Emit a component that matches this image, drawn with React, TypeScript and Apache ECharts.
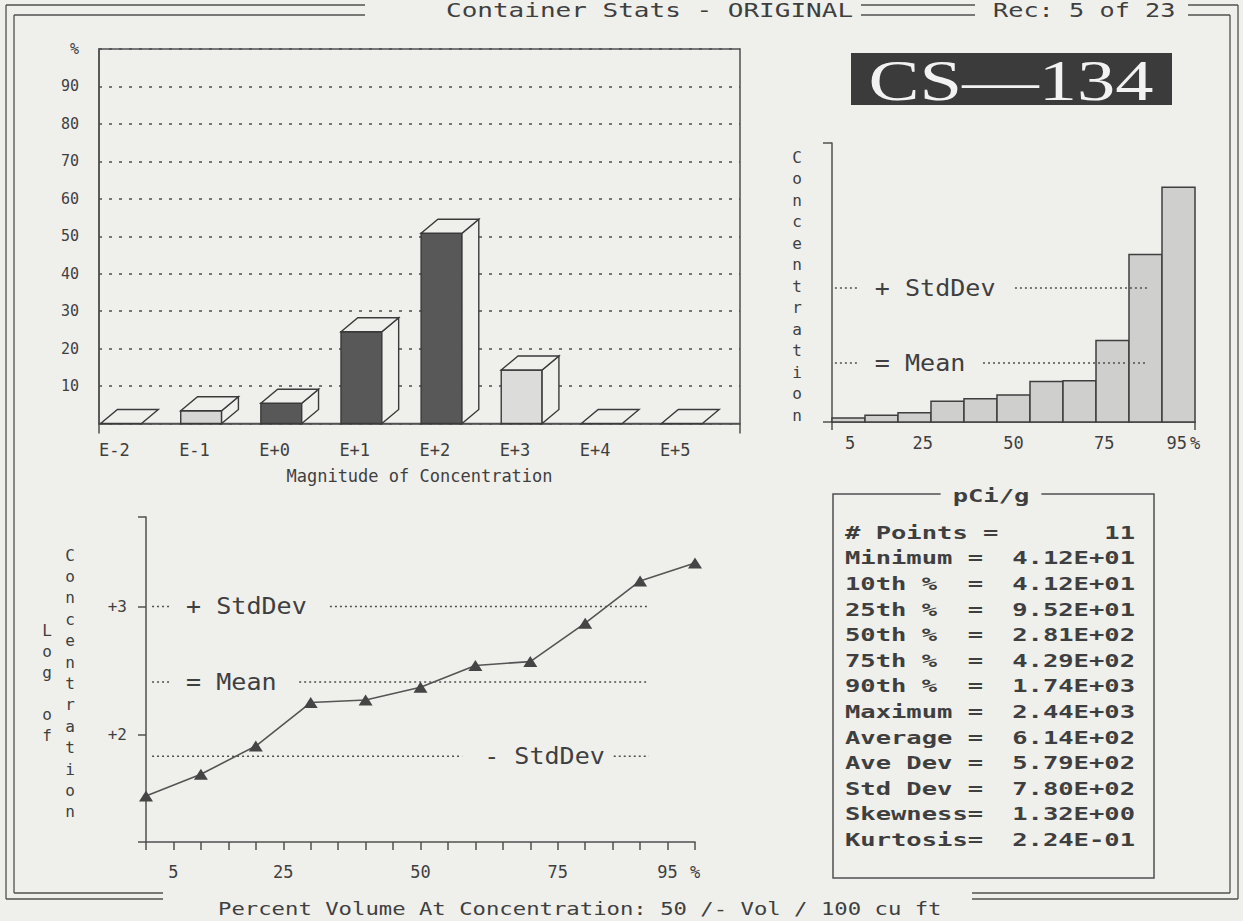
import React, { useEffect, useRef } from 'react';
import * as echarts from 'echarts';

// ---------------- data ----------------
const magnitudeCategories = ['E-2', 'E-1', 'E+0', 'E+1', 'E+2', 'E+3', 'E+4', 'E+5'];
const magnitudePercent = [0, 3.4, 5.4, 24.5, 50.8, 14.3, 0, 0];

const histPercentTicks = [5, 25, 50, 75, 95, 100];
const histConcentration = [41.2, 70, 95.2, 215, 242, 281, 420, 429, 848, 1740, 2440];
const histMean = 614;
const histPlusStdDev = 1394;

const logPercentiles = [0, 10, 20, 30, 40, 50, 60, 70, 80, 90, 100];
const logConcentration = [1.52, 1.69, 1.91, 2.25, 2.27, 2.37, 2.54, 2.57, 2.87, 3.2, 3.34];
const logTickLabels = [2, 3];
const logMean = 2.41;
const logPlusStdDev = 3.0;
const logMinusStdDev = 1.83;

const statLabels = [
  '# Points =', 'Minimum =', '10th %  =', '25th %  =', '50th %  =', '75th %  =', '90th %  =',
  'Maximum =', 'Average =', 'Ave Dev =', 'Std Dev =', 'Skewness=', 'Kurtosis=',
];
const statValues = [
  '11', '4.12E+01', '4.12E+01', '9.52E+01', '2.81E+02', '4.29E+02', '1.74E+03',
  '2.44E+03', '6.14E+02', '5.79E+02', '7.80E+02', '1.32E+00', '2.24E-01',
];

// ---------------- styles ----------------
const BG = '#efefec';
const INK = '#3f3f3f';
const LINE = '#505050';
const MONO = '"DejaVu Sans Mono", "Liberation Mono", monospace';
const barFaceFills = ['#efefec', '#d6d6d4', '#585858', '#585858', '#585858', '#dcdcda', '#efefec', '#efefec'];

// annotation geometry (data coordinates of dotted reference pieces)
const histRefSegments = [
  [0.8, 7.7, histPlusStdDev], [50.4, 86.8, histPlusStdDev],
  [0.8, 6.9, histMean], [41.6, 87, histMean],
];
const histRefLabels = [
  { text: '+ StdDev', x: 11.8, y: histPlusStdDev },
  { text: '= Mean', x: 11.8, y: histMean },
];
const logRefSegments = [
  [1.1, 4.7, logPlusStdDev], [33.5, 91.6, logPlusStdDev],
  [1.1, 4.7, logMean], [27.9, 91.6, logMean],
  [1.1, 57.6, logMinusStdDev], [85.2, 91.6, logMinusStdDev],
];
const logRefLabels = [
  { text: '+ StdDev', x: 7.3, y: logPlusStdDev },
  { text: '= Mean', x: 7.3, y: logMean },
  { text: '- StdDev', x: 61.6, y: logMinusStdDev },
];

const T = (text: string, x: number, y: number, o: any = {}) => ({
  type: 'text',
  x,
  y,
  scaleX: o.sx ?? 1,
  silent: true,
  z: o.z ?? 10,
  style: {
    text,
    fill: o.fill ?? INK,
    fontSize: o.size ?? 17,
    fontFamily: o.family ?? MONO,
    fontWeight: o.weight ?? 'normal',
    align: o.align ?? 'left',
    verticalAlign: o.va ?? 'middle',
    lineHeight: o.lh,
    backgroundColor: o.bg,
    padding: o.pad,
  },
});

const L = (x1: number, y1: number, x2: number, y2: number, w = 1.3) => ({
  type: 'line',
  silent: true,
  shape: { x1, y1, x2, y2 },
  style: { stroke: LINE, lineWidth: w },
});

const refSegmentSeries = (xi: number, segs: number[][]) => ({
  type: 'custom',
  xAxisIndex: xi,
  yAxisIndex: xi,
  silent: true,
  clip: false,
  z: 3,
  data: segs,
  encode: { x: [0, 1], y: 2 },
  renderItem: (_p: any, api: any) => {
    const a = api.coord([api.value(0), api.value(2)]);
    const b = api.coord([api.value(1), api.value(2)]);
    return {
      type: 'line',
      shape: { x1: a[0], y1: a[1], x2: b[0], y2: b[1] },
      style: { stroke: LINE, lineWidth: 1.5, lineDash: [2, 3] },
    };
  },
});

const refLabelSeries = (xi: number, labels: { text: string; x: number; y: number }[]) => ({
  type: 'custom',
  xAxisIndex: xi,
  yAxisIndex: xi,
  silent: true,
  clip: false,
  z: 4,
  data: labels.map((l) => [l.x, l.y]),
  encode: { x: 0, y: 1 },
  renderItem: (params: any, api: any) => {
    const p = api.coord([api.value(0), api.value(1)]);
    return {
      type: 'text',
      x: p[0],
      y: p[1],
      scaleX: 1.09,
      style: {
        text: labels[params.dataIndex].text,
        fill: INK,
        fontSize: 23,
        fontFamily: MONO,
        align: 'left',
        verticalAlign: 'middle',
      },
    };
  },
});

const axisLineStyle = { color: LINE, width: 1.5 };
const labelStyle = (size: number) => ({ color: INK, fontFamily: MONO, fontSize: size });

export default function App() {
  const ref = useRef<HTMLDivElement>(null);

  useEffect(() => {
    if (!ref.current) return;
    const chart = echarts.init(ref.current, null, { renderer: 'svg' });

    const graphics: any[] = [];
    // outer double frame
    graphics.push(
      L(6, 5, 365, 5), L(14, 15, 365, 15),
      L(861, 5, 975, 5), L(861, 15, 975, 15),
      L(1188, 5, 1238, 5), L(1188, 15, 1230, 15),
      L(6, 5, 6, 899), L(14, 15, 14, 893),
      L(1238, 5, 1238, 899), L(1230, 15, 1230, 893),
      L(6, 899, 163, 899), L(14, 893, 163, 893),
      L(972, 899, 1238, 899), L(972, 893, 1230, 893),
    );
    graphics.push(T('Container Stats - ORIGINAL', 446, 10, { size: 19, sx: 1.37 }));
    graphics.push(T('Rec: 5 of 23', 993, 10, { size: 19, sx: 1.33 }));
    graphics.push(T('Percent Volume At Concentration: 50 /- Vol / 100 cu ft', 218, 909, { size: 17, sx: 1.31 }));

    // CS-134 label
    graphics.push({
      type: 'rect', silent: true, z: 9,
      shape: { x: 851, y: 53, width: 321, height: 52 },
      style: { fill: '#3b3b3b' },
    });
    graphics.push(T('CS—134', 1011, 80, { size: 58, family: '"Liberation Serif", "DejaVu Serif", serif', fill: '#f2f2f2', align: 'center', sx: 1.32 }));

    // vertical axis words
    graphics.push(T('Concentration'.split('').join('\n'), 797, 286, { size: 16, lh: 21.5, align: 'center' }));
    graphics.push(T('Concentration'.split('').join('\n'), 70, 683.5, { size: 16, lh: 21.4, align: 'center' }));
    graphics.push(T('L\no\ng\n\no\nf', 47, 682.5, { size: 16, lh: 21, align: 'center' }));

    // stats box
    graphics.push({
      type: 'rect', silent: true, z: 8,
      shape: { x: 833, y: 494, width: 321, height: 384 },
      style: { fill: 'none', stroke: LINE, lineWidth: 1.5 },
    });
    graphics.push(T('pCi/g', 991, 496, { size: 17, sx: 1.5, align: 'center', bg: BG, pad: [2, 8], weight: 'bold' }));
    statLabels.forEach((s, k) => graphics.push(T(s, 845, 533 + k * 25.6, { size: 17, sx: 1.5, weight: 'bold' })));
    statValues.forEach((s, k) => graphics.push(T(s, 1135, 533 + k * 25.6, { size: 17, sx: 1.5, align: 'right', weight: 'bold' })));

    const option: any = {
      animation: false,
      backgroundColor: BG,
      grid: [
        { left: 99, top: 49, width: 641, height: 374.5, show: true, borderColor: LINE, borderWidth: 1.5 },
        { left: 832, top: 143, width: 363, height: 279 },
        { left: 146, top: 517, width: 549, height: 325 },
      ],
      xAxis: [
        {
          gridIndex: 0, type: 'value', min: 0, max: 8, interval: 1,
          axisLine: { show: true, lineStyle: axisLineStyle },
          axisTick: { show: true, customValues: [0, 8], length: 10, lineStyle: axisLineStyle },
          axisLabel: {
            ...labelStyle(17), margin: 18, align: 'left',
            formatter: (v: number) => magnitudeCategories[v] ?? '',
          },
          splitLine: { show: false },
          name: 'Magnitude of Concentration', nameLocation: 'middle', nameGap: 44,
          nameTextStyle: labelStyle(17),
        },
        {
          gridIndex: 1, type: 'value', min: 0, max: 100,
          axisLine: { show: true, lineStyle: axisLineStyle },
          axisTick: { show: true, customValues: [0, 100], length: 8, lineStyle: axisLineStyle },
          axisLabel: {
            ...labelStyle(17), margin: 12, customValues: histPercentTicks,
            formatter: (v: number) => (v === 100 ? '%' : String(v)),
          },
          splitLine: { show: false },
        },
        {
          gridIndex: 2, type: 'value', min: 0, max: 100, interval: 5,
          axisLine: { show: true, lineStyle: axisLineStyle },
          axisTick: { show: true, length: 8, lineStyle: axisLineStyle },
          axisLabel: {
            ...labelStyle(17), margin: 21, customValues: histPercentTicks,
            formatter: (v: number) => (v === 100 ? '%' : String(v)),
          },
          splitLine: { show: false },
        },
      ],
      yAxis: [
        {
          gridIndex: 0, type: 'value', min: 0, max: 100, interval: 10,
          axisLine: { show: true, lineStyle: axisLineStyle },
          axisTick: { show: false },
          axisLabel: {
            ...labelStyle(15), margin: 20,
            formatter: (v: number) => (v === 0 ? '' : v === 100 ? '%' : String(v)),
          },
          splitLine: { show: true, lineStyle: { color: LINE, width: 1.5, type: [3, 7] } },
        },
        {
          gridIndex: 1, type: 'value', min: 0, max: 2900,
          axisLine: { show: true, lineStyle: axisLineStyle },
          axisTick: { show: true, customValues: [0, 2900], length: 9, lineStyle: axisLineStyle },
          axisLabel: { show: false },
          splitLine: { show: false },
        },
        {
          gridIndex: 2, type: 'value', min: 1.16, max: 3.7,
          axisLine: { show: true, lineStyle: axisLineStyle },
          axisTick: { show: true, customValues: [1.16, 2, 3, 3.7], length: 8, lineStyle: axisLineStyle },
          axisLabel: {
            ...labelStyle(16), margin: 19, customValues: logTickLabels,
            formatter: (v: number) => '+' + v,
          },
          splitLine: { show: false },
        },
      ],
      series: [
        {
          type: 'custom', name: 'Percent', xAxisIndex: 0, yAxisIndex: 0, clip: false, z: 5,
          data: magnitudePercent.map((v, i) => [i, v]),
          encode: { x: 0, y: 1 },
          renderItem: (params: any, api: any) => {
            const i = api.value(0);
            const v = api.value(1);
            const x0 = api.coord([i + 0.02, 0])[0];
            const x1 = api.coord([i + 0.53, 0])[0];
            const yb = api.coord([i, 0])[1];
            const yt = api.coord([i, v])[1];
            const sz = api.size([0.21, 3.74]);
            const dx = sz[0];
            const dy = sz[1];
            const st = { stroke: '#3a3a3a', lineWidth: 1.4 };
            const children: any[] = [];
            if (v > 0) {
              children.push({
                type: 'rect',
                shape: { x: x0, y: yt, width: x1 - x0, height: yb - yt },
                style: { ...st, fill: barFaceFills[params.dataIndex] },
              });
              children.push({
                type: 'polygon',
                shape: { points: [[x1, yt], [x1 + dx, yt - dy], [x1 + dx, yb - dy], [x1, yb]] },
                style: { ...st, fill: BG },
              });
            }
            children.push({
              type: 'polygon',
              shape: { points: [[x0, yt], [x1, yt], [x1 + dx, yt - dy], [x0 + dx, yt - dy]] },
              style: { ...st, fill: BG },
            });
            return { type: 'group', children };
          },
        },
        {
          type: 'custom', name: 'Concentration', xAxisIndex: 1, yAxisIndex: 1, z: 2,
          data: histConcentration.map((v, i) => [i, v]),
          encode: { x: 0, y: 1 },
          renderItem: (params: any, api: any) => {
            const n = histConcentration.length;
            const i = api.value(0);
            const a = api.coord([(i * 100) / n, api.value(1)]);
            const b = api.coord([((i + 1) * 100) / n, 0]);
            return {
              type: 'rect',
              shape: { x: a[0], y: a[1], width: b[0] - a[0], height: b[1] - a[1] },
              style: { fill: '#cfcfcd', stroke: '#3f3f3f', lineWidth: 1.5 },
            };
          },
        },
        refSegmentSeries(1, histRefSegments),
        refLabelSeries(1, histRefLabels),
        {
          type: 'line', name: 'Log Concentration', xAxisIndex: 2, yAxisIndex: 2, z: 5,
          data: logPercentiles.map((p, i) => [p, logConcentration[i]]),
          symbol: 'triangle', symbolSize: [14, 11],
          itemStyle: { color: '#454545' },
          lineStyle: { color: '#555555', width: 1.6 },
        },
        refSegmentSeries(2, logRefSegments),
        refLabelSeries(2, logRefLabels),
      ],
      graphic: { elements: graphics },
    };

    chart.setOption(option);
    return () => chart.dispose();
  }, []);

  return (
    <div
      ref={ref}
      style={{ position: 'fixed', left: 0, top: 0, width: 1243, height: 921, background: BG }}
    />
  );
}
